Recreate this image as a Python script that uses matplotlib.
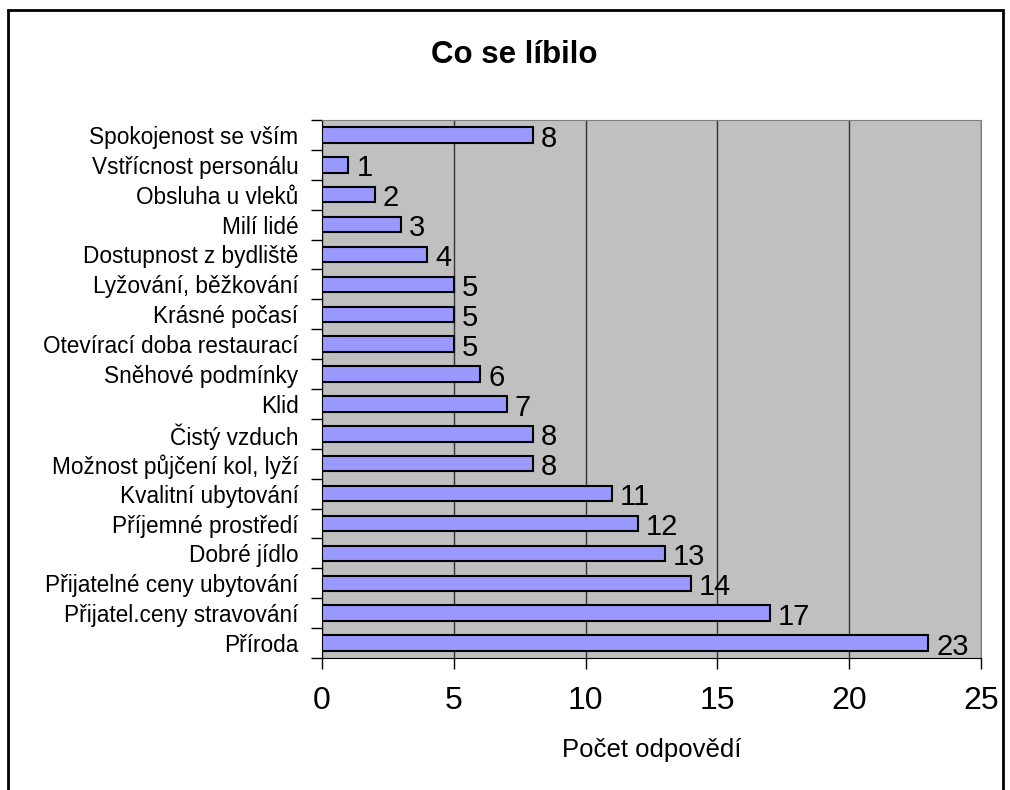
import matplotlib.pyplot as plt
import matplotlib.patches as patches
import numpy as np

plt.rcParams['font.family'] = ['Liberation Sans', 'DejaVu Sans']

# categories from top to bottom, as shown in the chart
categories = ["Spokojenost se vším", "Vstřícnost personálu", "Obsluha u vleků",
              "Milí lidé", "Dostupnost z bydliště", "Lyžování, běžkování",
              "Krásné počasí", "Otevírací doba restaurací", "Sněhové podmínky",
              "Klid", "Čistý vzduch", "Možnost půjčení kol, lyží",
              "Kvalitní ubytování", "Příjemné prostředí", "Dobré jídlo",
              "Přijatelné ceny ubytování", "Přijatel.ceny stravování", "Příroda"]
counts = [8, 1, 2, 3, 4, 5, 5, 5, 6, 7, 8, 8, 11, 12, 13, 14, 17, 23]

fig = plt.figure(figsize=(10.1, 7.9), dpi=100, facecolor="white")
ax = fig.add_axes([322 / 1010, 1 - 658 / 790, (981 - 322) / 1010, (658 - 120) / 790])
ax.set_facecolor("#C0C0C0")

# outer chart frame
fig.patches.append(patches.Rectangle((8 / 1010, -0.05), (1003 - 8) / 1010, 1.05 - 10 / 790,
                                     transform=fig.transFigure, fill=False,
                                     edgecolor="black", linewidth=2))

y = np.arange(len(categories))
ax.barh(y, counts, height=0.52, color="#9999FF", edgecolor="black", linewidth=1.5, zorder=3)

for yi, v in zip(y, counts):
    ax.text(v + 0.3, yi + 0.12, str(v), va="center", ha="left", fontsize=21, zorder=4)

ax.set_xlim(0, 25)
ax.set_ylim(len(categories) - 0.5, -0.5)
ax.set_xticks([0, 5, 10, 15, 20, 25])
ax.tick_params(axis="x", labelsize=23, length=8, width=1, pad=12, direction="out")
ax.set_yticks(y)
ax.set_yticklabels(categories, fontsize=16.3)
ax.tick_params(axis="y", which="major", length=0, pad=17)
ax.set_yticks(np.arange(-0.5, len(categories), 1), minor=True)
ax.tick_params(axis="y", which="minor", length=8, width=1, direction="out")

ax.grid(axis="x", color="#333333", linewidth=1, zorder=1)
ax.set_axisbelow(True)
for s in ["top", "right"]:
    ax.spines[s].set_color("#808080")
for s in ["left", "bottom"]:
    ax.spines[s].set_color("black")

ax.set_xlabel("Počet odpovědí", fontsize=18.5, labelpad=16)
fig.text(514 / 1010, 1 - 55 / 790, "Co se líbilo", ha="center", va="center",
         fontsize=22.5, fontweight="bold")

fig.savefig("out.png", dpi=100, facecolor="white")
